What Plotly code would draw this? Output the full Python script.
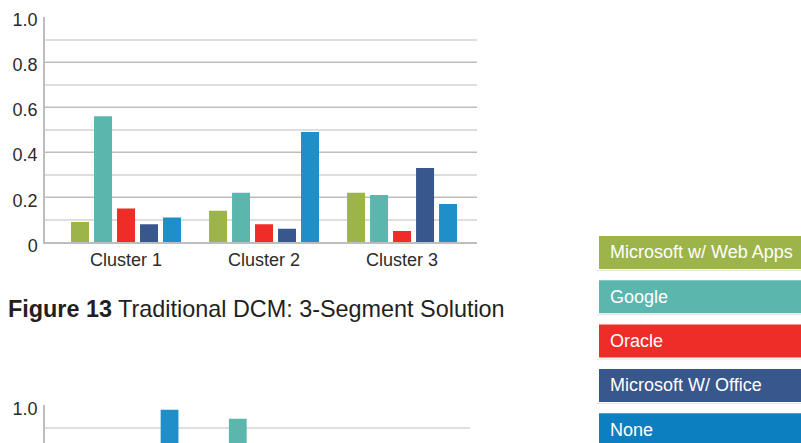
import plotly.graph_objects as go

W, H = 801, 443

clusters = ["Cluster 1", "Cluster 2", "Cluster 3"]
series = ["Microsoft w/ Web Apps", "Google", "Oracle", "Microsoft W/ Office", "None"]
bar_colors = ["#9CB44A", "#5BB6AD", "#EE2D28", "#38578C", "#1E8FC8"]
legend_colors = ["#9CB44A", "#5BB6AD", "#EE2D28", "#38578C", "#0B7FC0"]

# Top chart (3-segment solution)
top_values = [
    [0.09, 0.14, 0.22],   # Microsoft w/ Web Apps
    [0.56, 0.22, 0.21],   # Google
    [0.15, 0.08, 0.05],   # Oracle
    [0.08, 0.06, 0.33],   # Microsoft W/ Office
    [0.11, 0.49, 0.17],   # None
]
# Bottom chart (only the tops of two bars are visible)
bottom_values = [
    [None, None, None],
    [None, 0.94, None],
    [None, None, None],
    [None, None, None],
    [0.98, None, None],
]

y_tickvals = [0, 0.2, 0.4, 0.6, 0.8, 1.0]
y_ticktext = ["0", "0.2", "0.4", "0.6", "0.8", "1.0"]
title_bold = "Figure 13"
title_rest = "Traditional DCM: 3-Segment Solution"

FONT = "Liberation Sans, Arial, sans-serif"
TXT = "#2b2b2b"

bargap = 0.167
groupgap = 0.217
slot = (1 - bargap) / len(series)
bw = slot * (1 - groupgap)

fig = go.Figure()
for k, (name, col) in enumerate(zip(series, bar_colors)):
    off = -0.5 * (1 - bargap) + k * slot + slot * groupgap / 2
    fig.add_trace(go.Bar(x=clusters, y=top_values[k], name=name, marker_color=col,
                         marker_line_width=0, width=bw, offset=off,
                         xaxis="x", yaxis="y", showlegend=False))
    fig.add_trace(go.Bar(x=clusters, y=bottom_values[k], name=name, marker_color=col,
                         marker_line_width=0, width=bw, offset=off,
                         xaxis="x2", yaxis="y2", showlegend=False))

def px_x(p):
    return p / W

def px_y(p):
    return 1 - p / H

ycommon = dict(
    tickvals=y_tickvals, ticktext=y_ticktext,
    showgrid=True, gridcolor="#BDBDBD", gridwidth=1.3,
    minor=dict(dtick=0.1, tick0=0, showgrid=True, gridcolor="#DEDEDE", gridwidth=2, ticks=""),
    showline=True, linecolor="#BDBDBD", linewidth=1.5,
    zeroline=False, ticks="", ticklabelstandoff=2, ticklabelshift=3,
    tickfont=dict(family=FONT, size=18, color=TXT), fixedrange=True,
    automargin=False,
)

fig.update_layout(
    width=W, height=H,
    margin=dict(l=0, r=0, t=0, b=0, pad=0, autoexpand=False),
    paper_bgcolor="white", plot_bgcolor="white",
    barmode="group",
    xaxis=dict(domain=[px_x(45), px_x(477)], range=[-0.587, 2.543], anchor="y",
               showline=True, linecolor="#BDBDBD", linewidth=1.5, ticks="",
               showgrid=False, automargin=False,
               tickfont=dict(family=FONT, size=18, color=TXT)),
    yaxis=dict(domain=[px_y(242.3), px_y(17)], range=[0, 1.0], anchor="x", **ycommon),
    xaxis2=dict(domain=[px_x(45), px_x(470)], range=[-0.580, 2.536], anchor="y2",
                showline=False, ticks="", showgrid=False, showticklabels=False,
                automargin=False),
    yaxis2=dict(domain=[0, px_y(405.3)], range=[0.832, 1.0], anchor="x2", **ycommon),
)

# Title
fig.add_annotation(x=px_x(6), y=px_y(309), xref="paper", yref="paper",
                   xanchor="left", yanchor="middle", showarrow=False,
                   text=f"<b>{title_bold}</b> {title_rest}",
                   font=dict(family=FONT, size=23.4, color="#231F20"))

# Legend boxes
top0, step, bh = 236, 44.3, 33
for i, (name, col) in enumerate(zip(series, legend_colors)):
    t = top0 + i * step
    fig.add_shape(type="rect", xref="paper", yref="paper",
                  x0=px_x(599), x1=1.0, y0=px_y(t + bh), y1=px_y(t),
                  fillcolor=col, line_width=0, layer="above")
    fig.add_shape(type="line", xref="paper", yref="paper",
                  x0=px_x(597), x1=1.0, y0=px_y(t + bh + 1.5), y1=px_y(t + bh + 1.5),
                  line=dict(color="#E4E4E4", width=1))
    fig.add_annotation(x=px_x(608), y=px_y(t + bh / 2), xref="paper", yref="paper",
                       xanchor="left", yanchor="middle", showarrow=False, text=name,
                       font=dict(family=FONT, size=18, color="white"))

fig.write_html("out.html")
